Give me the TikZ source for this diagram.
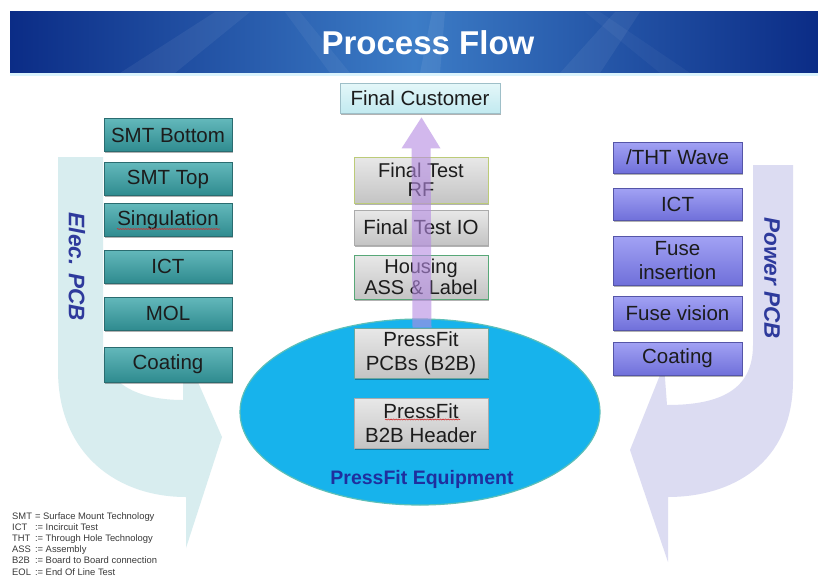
\documentclass[tikz,border=0pt]{standalone}
\usepackage{fontspec}
\setmainfont{Liberation Sans}
\usetikzlibrary{shapes.geometric,shadows,decorations.pathmorphing,calc}
\definecolor{bannerdark}{HTML}{0B2C86}
\definecolor{bannermid}{HTML}{3C7CC6}
\definecolor{elecfill}{HTML}{D8EDEF}
\definecolor{powfill}{HTML}{DCDCF2}
\definecolor{tealtop}{HTML}{63B8BB}
\definecolor{tealbot}{HTML}{2F8B8F}
\definecolor{tealdraw}{HTML}{2A6C70}
\definecolor{purtop}{HTML}{A2A2F4}
\definecolor{purbot}{HTML}{7070DA}
\definecolor{purdraw}{HTML}{5555A8}
\definecolor{graytop}{HTML}{E8E8E8}
\definecolor{graybot}{HTML}{C4C4C4}
\definecolor{custtop}{HTML}{E4F7F9}
\definecolor{custbot}{HTML}{C2EAF0}
\definecolor{custdraw}{HTML}{9EBFC8}
\definecolor{equipfill}{HTML}{17B3EC}
\definecolor{equipdraw}{HTML}{5CBFB8}
\definecolor{equiptext}{HTML}{1F2F9E}
\definecolor{pcbtext}{HTML}{2E3A9C}
\definecolor{arrowpurple}{HTML}{B48AE2}
\definecolor{boxtext}{HTML}{1C1C1C}
\definecolor{legendtext}{HTML}{3A3A3A}
\definecolor{spellred}{HTML}{D03030}
\definecolor{rfdraw}{HTML}{BCCB78}
\definecolor{iodraw}{HTML}{ABABAB}
\definecolor{housedraw}{HTML}{58A878}
\definecolor{pcbsdraw}{HTML}{6AA8A0}
\tikzset{
  boxbase/.style={rectangle, inner sep=0pt, align=center, text=boxtext,
    font=\fontsize{20.5}{22}\selectfont,
    drop shadow={shadow xshift=1.2pt, shadow yshift=-1.6pt, opacity=0.3, fill=black}},
  tealbox/.style={boxbase, draw=tealdraw, line width=0.8pt, top color=tealtop, bottom color=tealbot,
    minimum width=128pt, minimum height=33pt},
  purbox/.style={boxbase, draw=purdraw, line width=0.8pt, top color=purtop, bottom color=purbot,
    minimum width=129pt, minimum height=32pt},
  graybox/.style={boxbase, line width=1pt, top color=graytop, bottom color=graybot,
    minimum width=134pt},
  pcblabel/.style={font=\fontsize{22.5}{24}\selectfont\bfseries\itshape, text=pcbtext, rotate=-90, inner sep=0pt},
  spell/.style={spellred, line width=0.6pt, decorate, decoration={snake, amplitude=0.5pt, segment length=2.6pt}}
}
\begin{document}
\begin{tikzpicture}[x=1pt,y=-1pt]
\useasboundingbox (0,0) rectangle (818,578);
\fill[white] (0,0) rectangle (818,578);

% banner
\shade[left color=bannerdark, right color=bannerdark, middle color=bannermid] (10,12) rectangle (818,73);
\fill[white, opacity=0.06] (120,73) -- (175,73) -- (250,12) -- (215,12) -- cycle;
\fill[white, opacity=0.05] (330,73) -- (350,73) -- (300,12) -- (285,12) -- cycle;
\fill[white, opacity=0.06] (560,73) -- (600,73) -- (640,12) -- (615,12) -- cycle;
\fill[white, opacity=0.04] (660,73) -- (690,73) -- (600,12) -- (585,12) -- cycle;
\fill[white, opacity=0.07] (420,73) -- (440,73) -- (445,12) -- (432,12) -- cycle;
\fill[white!85!cyan] (10,73) rectangle (818,76);
\node[text=white, font=\fontsize{33}{36}\selectfont\bfseries, inner sep=0pt] (title) at (428,43) {Process Flow};

% curved background arrows
\fill[elecfill] (58,157) -- (103,157) -- (103,345)
  .. controls (103,385) and (140,400) .. (183,400) -- (183,348) -- (222,437) -- (186,548) -- (186,497)
  .. controls (118,497) and (58,455) .. (58,370) -- cycle;
\fill[powfill] (753,165) -- (793,165) -- (793,380)
  .. controls (793,465) and (730,497) .. (668,497) -- (668,562) -- (630,450) -- (664,365) -- (667,405)
  .. controls (720,405) and (753,390) .. (753,345) -- cycle;

\node[pcblabel] (elec) at (77,267) {Elec. PCB};
\node[pcblabel] (power) at (772,278) {Power PCB};

% equipment ellipse
\node[ellipse, fill=equipfill, draw=equipdraw, line width=1.2pt, minimum width=360pt, minimum height=186pt] (equip) at (420,412) {};
\node[font=\fontsize{19.5}{22}\selectfont\bfseries, text=equiptext, inner sep=0pt] (equiplabel) at (422,479) {PressFit Equipment};

% left column
\node[tealbox] (smtb) at (168,135) {SMT Bottom};
\node[tealbox] (smtt) at (168,179) {SMT Top};
\node[tealbox] (sing) at (168,220) {Singulation};
\node[tealbox] (ict1) at (168,266.5) {ICT};
\node[tealbox] (mol) at (168,313.5) {MOL};
\node[tealbox, minimum height=35pt] (coat1) at (168,364.5) {Coating};

% right column
\node[purbox, minimum height=31pt] (tht) at (677.5,157.5) {/THT Wave};
\node[purbox] (ict2) at (677.5,204) {ICT};
\node[purbox, minimum height=49pt, font=\fontsize{20.5}{24}\selectfont] (fins) at (677.5,260.5) {Fuse\\insertion};
\node[purbox, minimum height=34pt] (fvis) at (677.5,313) {Fuse vision};
\node[purbox, minimum height=33pt] (coat2) at (677.5,358.5) {Coating};

% center column
\node[boxbase, draw=custdraw, line width=0.8pt, top color=custtop, bottom color=custbot, minimum width=160pt, minimum height=30pt] (cust) at (420,98) {Final Customer};
\node[graybox, draw=rfdraw, minimum height=46pt, font=\fontsize{20}{19.5}\selectfont] (rf) at (421,180) {Final Test\\RF};
\node[graybox, draw=iodraw, minimum height=35pt] (io) at (421,227.5) {Final Test IO};
\node[graybox, draw=housedraw, minimum height=44pt, font=\fontsize{20}{20.5}\selectfont] (house) at (421,277) {Housing\\ASS \& Label};
\node[graybox, draw=pcbsdraw, minimum height=50pt, font=\fontsize{20.5}{24.5}\selectfont] (pcbs) at (421,353) {PressFit\\PCBs (B2B)};
\node[graybox, draw=iodraw, minimum height=50pt, font=\fontsize{20.5}{24.5}\selectfont] (hdr) at (421,423) {PressFit\\B2B Header};

% flow arrow to final customer
\fill[arrowpurple, opacity=0.6]
  ($(pcbs.north)+(-8.5,0)$) -- ($(cust.south)+(-8.5,35)$) -- ($(cust.south)+(-18.5,35)$)
  -- ($(cust.south)+(1.5,4)$) -- ($(cust.south)+(20.5,35)$) -- ($(cust.south)+(10.5,35)$)
  -- ($(pcbs.north)+(10.5,0)$) -- cycle;

% spell-check marks
\draw[spell] ($(sing.center)+(-51,9)$) -- ($(sing.center)+(52,9)$);
\draw[spell] ($(hdr.center)+(-36,-3.5)$) -- ($(hdr.center)+(39,-3.5)$);

% legend
\node[anchor=north west, inner sep=0pt, text=legendtext, font=\fontsize{9.4}{11.2}\selectfont] (legend) at (12,511)
{\begin{tabular}{@{}l@{\hspace{3pt}}l@{}}
SMT & = Surface Mount Technology\\
ICT & := Incircuit Test\\
THT & := Through Hole Technology\\
ASS & := Assembly\\
B2B & := Board to Board connection\\
EOL & := End Of Line Test
\end{tabular}};
\end{tikzpicture}
\end{document}
